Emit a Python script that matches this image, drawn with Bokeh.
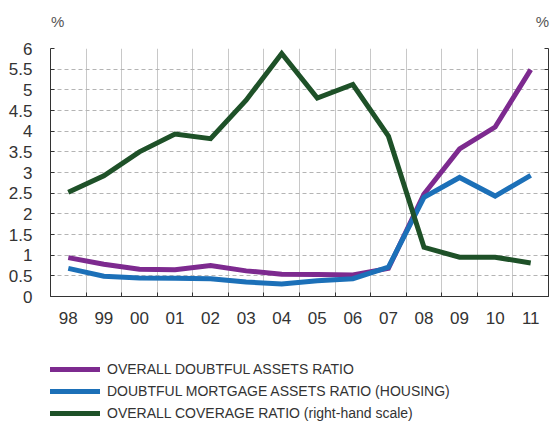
from bokeh.plotting import figure
from bokeh.layouts import column
from bokeh.models import (Range1d, LinearAxis, FixedTicker, CustomJSTickFormatter,
                          Legend, LegendItem, ColumnDataSource)
from bokeh.embed import file_html
from bokeh.resources import INLINE

# ---- data -------------------------------------------------------------
years = ["98", "99", "00", "01", "02", "03", "04", "05", "06", "07", "08", "09", "10", "11"]
doubtful_ratio = [0.94, 0.78, 0.66, 0.65, 0.75, 0.62, 0.54, 0.53, 0.52, 0.68, 2.48, 3.57, 4.10, 5.49]
mortgage_ratio = [0.68, 0.49, 0.45, 0.44, 0.43, 0.35, 0.30, 0.38, 0.43, 0.71, 2.40, 2.88, 2.43, 2.93]
coverage_ratio = [2.52, 2.92, 3.50, 3.93, 3.82, 4.75, 5.88, 4.80, 5.13, 3.88, 1.19, 0.95, 0.95, 0.81]
y_ticks = [0, 0.5, 1, 1.5, 2, 2.5, 3, 3.5, 4, 4.5, 5, 5.5, 6]
unit_labels = ["%", "%"]
series_names = ["OVERALL DOUBTFUL ASSETS RATIO",
                "DOUBTFUL MORTGAGE ASSETS RATIO (HOUSING)",
                "OVERALL COVERAGE RATIO (right-hand scale)"]

# ---- styles -----------------------------------------------------------
PURPLE = "#7D2A8F"
BLUE = "#1C70B8"
GREEN = "#1E5128"
TXT = "#333333"
FONT = "Liberation Sans"
colors = [PURPLE, BLUE, GREEN]
fields = ["doubtful", "mortgage", "coverage"]

n = len(years)
centers = [i + 0.5 for i in range(n)]
bounds = list(range(n + 1))
unit_pos = [0.2, n - 0.17]   # where the two "%" unit markers sit (left / right scale)

src = ColumnDataSource(dict(x=centers, doubtful=doubtful_ratio,
                            mortgage=mortgage_ratio, coverage=coverage_ratio))

p = figure(frame_width=498, frame_height=248,
           min_border_left=50, min_border_right=2, min_border_top=48, min_border_bottom=45,
           x_range=Range1d(0, n), y_range=Range1d(0, 6),
           output_backend="svg", toolbar_location=None, tools="")
p.extra_y_ranges = {"right": Range1d(0, 6)}
p.outline_line_color = None
p.background_fill_color = "white"
p.border_fill_color = "white"

# x axis: labels at centres, small inward marks at boundaries
xa = p.xaxis[0]
xa.ticker = FixedTicker(ticks=centers, minor_ticks=bounds)
xa.formatter = CustomJSTickFormatter(args=dict(labels=years),
                                     code="return labels[Math.floor(tick)];")
xa.major_tick_in = 0
xa.major_tick_out = 0
xa.minor_tick_in = 4
xa.minor_tick_out = 0
xa.minor_tick_line_color = TXT
xa.axis_line_color = TXT
xa.major_label_text_font = FONT
xa.major_label_text_font_size = "17px"
xa.major_label_text_color = TXT
xa.major_label_standoff = 15

ya = p.yaxis[0]
ya.ticker = FixedTicker(ticks=y_ticks, minor_ticks=[])
ya.formatter = CustomJSTickFormatter(code="return tick.toString();")
ya.major_tick_in = 4
ya.major_tick_out = 0
ya.major_tick_line_color = TXT
ya.axis_line_color = TXT
ya.major_label_text_font = FONT
ya.major_label_text_font_size = "17px"
ya.major_label_text_color = TXT
ya.major_label_standoff = 18

ra = LinearAxis(y_range_name="right",
                ticker=FixedTicker(ticks=y_ticks, minor_ticks=[]),
                formatter=CustomJSTickFormatter(code="return '';"))
ra.major_tick_in = 4
ra.major_tick_out = 0
ra.major_tick_line_color = TXT
ra.axis_line_color = TXT
ra.major_label_standoff = 0
ra.major_label_text_font_size = "1px"
p.add_layout(ra, "right")

# "%" unit markers above both scales
ua = LinearAxis(ticker=FixedTicker(ticks=unit_pos, minor_ticks=[]),
                formatter=CustomJSTickFormatter(args=dict(labels=unit_labels),
                                                code="return labels[index];"))
ua.axis_line_color = None
ua.major_tick_line_color = None
ua.minor_tick_line_color = None
ua.major_label_text_font = FONT
ua.major_label_text_font_size = "15px"
ua.major_label_text_color = "#555555"
ua.major_label_standoff = 13
p.add_layout(ua, "above")

p.xgrid.ticker = FixedTicker(ticks=bounds)
p.xgrid.grid_line_color = "#C8C8C8"
p.xgrid.grid_line_width = 1
p.ygrid.ticker = FixedTicker(ticks=y_ticks)
p.ygrid.grid_line_color = "#B4B4B4"
p.ygrid.grid_line_dash = "4 3"

p.line("x", "doubtful", source=src, line_color=PURPLE, line_width=5, line_join="miter")
p.line("x", "mortgage", source=src, line_color=BLUE, line_width=5, line_join="miter")
p.line("x", "coverage", source=src, line_color=GREEN, line_width=5, line_join="miter",
       y_range_name="right")

# ---- legend strip (separate small figure below the chart) -------------
# the key renderers reuse the series but sit outside this strip's visible range,
# so only their legend swatches show
lg = figure(width=550, height=80,
            min_border_left=0, min_border_right=0, min_border_top=0, min_border_bottom=0,
            x_axis_type=None, y_axis_type=None,
            x_range=Range1d(-2, -1), y_range=Range1d(-2, -1),
            output_backend="svg", toolbar_location=None, tools="")
lg.outline_line_color = None
lg.grid.visible = False
keys = [lg.line("x", f, source=src, line_color=c, line_width=5) for f, c in zip(fields, colors)]

legend = Legend(items=[LegendItem(label=name, renderers=[r]) for name, r in zip(series_names, keys)],
                location=(-5, 0), orientation="vertical",
                glyph_width=55, glyph_height=16, label_height=16, label_standoff=7,
                spacing=6, padding=0, margin=0, border_line_color=None,
                background_fill_alpha=0,
                label_text_font=FONT, label_text_font_size="14px",
                label_text_color=TXT)
lg.add_layout(legend, "center")

layout = column(p, lg, spacing=0)
open("out.html", "w").write(file_html(layout, INLINE))
